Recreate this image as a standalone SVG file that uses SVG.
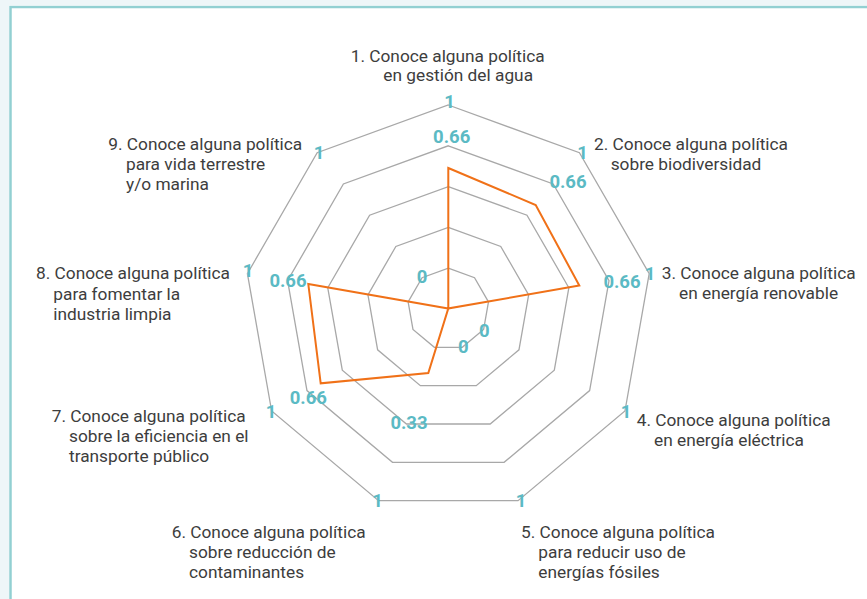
<svg xmlns="http://www.w3.org/2000/svg" width="867" height="599" viewBox="0 0 867 599">
<style>
.ring{fill:none;stroke:#a8a8a8;stroke-width:1.3}
.series{fill:none;stroke:#f07118;stroke-width:2;stroke-linejoin:miter}
.cat{font-family:Roboto,"Liberation Sans",sans-serif;font-size:17.3px;fill:#3d3d3d}
.val{font-family:Roboto,"Liberation Sans",sans-serif;font-size:18.5px;font-weight:bold;fill:#5bbac4;text-anchor:middle}
</style>
<rect x="0" y="0" width="867" height="599" fill="#ffffff"/>
<path d="M0 0H867V5H9V599H0Z" fill="#eef6f8"/>
<rect x="10.5" y="7" width="870" height="600" fill="none" stroke="#92d0d2" stroke-width="2.5"/>
<g id="grid">
<polygon class="ring" points="448.3,268.2 474.53,277.75 488.48,301.92 483.63,329.4 462.25,347.34 434.35,347.34 412.97,329.4 408.12,301.92 422.07,277.75"/>
<polygon class="ring" points="448.3,227.4 500.75,246.49 528.66,294.83 518.97,349.8 476.21,385.68 420.39,385.68 377.63,349.8 367.94,294.83 395.85,246.49"/>
<polygon class="ring" points="448.3,186.6 526.98,215.24 568.84,287.75 554.3,370.2 490.16,424.02 406.44,424.02 342.3,370.2 327.76,287.75 369.62,215.24"/>
<polygon class="ring" points="448.3,145.8 553.2,183.99 609.02,280.67 589.63,390.6 504.11,462.36 392.49,462.36 306.97,390.6 287.58,280.67 343.4,183.99"/>
<polygon class="ring" points="448.3,105 579.43,152.74 649.2,273.59 624.96,411 518.07,500.7 378.53,500.7 271.64,411 247.4,273.59 317.17,152.74"/>
</g>
<g id="connectors">
<polygon class="series" points="448.3,168 535.7,205 579.3,285.5 448.3,308.5 448.3,308.5 428.3,373 320.7,383.3 308.3,284 448.3,308.5"/>
</g>
<g id="axis-1">
<text class="cat" x="350.7" y="61.7">1. Conoce alguna política</text>
<text class="cat" x="383.3" y="80.5">en gestión del agua</text>
<text class="val" x="449.5" y="108">1</text>
<text class="val" x="451.7" y="142.7">0.66</text>
</g>
<g id="axis-2">
<text class="cat" x="594" y="150">2. Conoce alguna política</text>
<text class="cat" x="610.7" y="169.5">sobre biodiversidad</text>
<text class="val" x="582.5" y="158.5">1</text>
<text class="val" x="568" y="188.3">0.66</text>
</g>
<g id="axis-3">
<text class="cat" x="661.7" y="279">3. Conoce alguna política</text>
<text class="cat" x="679" y="299">en energía renovable</text>
<text class="val" x="650" y="280">1</text>
<text class="val" x="622" y="288">0.66</text>
</g>
<g id="axis-4">
<text class="cat" x="636.7" y="425.7">4. Conoce alguna política</text>
<text class="cat" x="654" y="445.7">en energía eléctrica</text>
<text class="val" x="626" y="418.3">1</text>
<text class="val" x="484.3" y="337.3">0</text>
</g>
<g id="axis-5">
<text class="cat" x="521" y="537.7">5. Conoce alguna política</text>
<text class="cat" x="538.3" y="557.7">para reducir uso de</text>
<text class="cat" x="538.3" y="577.7">energías fósiles</text>
<text class="val" x="521" y="507">1</text>
<text class="val" x="463.3" y="353.3">0</text>
</g>
<g id="axis-6">
<text class="cat" x="171.7" y="538.3">6. Conoce alguna política</text>
<text class="cat" x="189" y="558.3">sobre reducción de</text>
<text class="cat" x="189" y="578.3">contaminantes</text>
<text class="val" x="377.5" y="507">1</text>
<text class="val" x="409" y="429">0.33</text>
</g>
<g id="axis-7">
<text class="cat" x="51.7" y="421.7">7. Conoce alguna política</text>
<text class="cat" x="69" y="441.7">sobre la eficiencia en el</text>
<text class="cat" x="69" y="461.7">transporte público</text>
<text class="val" x="271" y="418.3">1</text>
<text class="val" x="308.3" y="403.5">0.66</text>
</g>
<g id="axis-8">
<text class="cat" x="36" y="279.3">8. Conoce alguna política</text>
<text class="cat" x="53.3" y="300">para fomentar la</text>
<text class="cat" x="53.3" y="320">industria limpia</text>
<text class="val" x="248" y="277.3">1</text>
<text class="val" x="288" y="287">0.66</text>
</g>
<g id="axis-9">
<text class="cat" x="108.3" y="150">9. Conoce alguna política</text>
<text class="cat" x="126" y="170">para vida terrestre</text>
<text class="cat" x="126" y="190">y/o marina</text>
<text class="val" x="319" y="159">1</text>
<text class="val" x="422" y="282.5">0</text>
</g>
</svg>
